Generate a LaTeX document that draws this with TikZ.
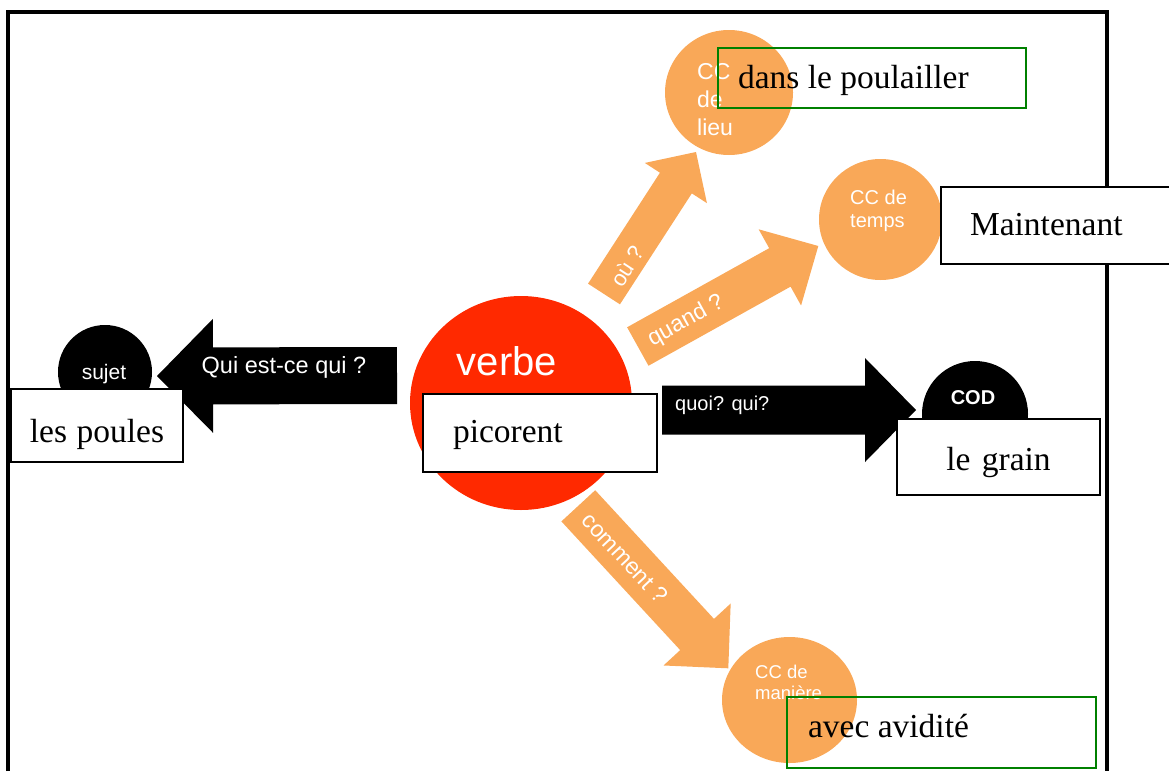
\documentclass[tikz,border=0pt]{standalone}
\usepackage{fontspec}
\setmainfont{Liberation Serif}
\setsansfont{Liberation Sans}
\usetikzlibrary{calc,shapes.geometric}
\definecolor{verbered}{RGB}{255,41,0}
\definecolor{ccorange}{RGB}{249,168,88}
\definecolor{ccgreen}{RGB}{0,128,0}
\newcommand{\answerfont}{\fontsize{33.5}{40}\selectfont}
\newcommand{\tagfont}[2]{\sffamily\fontsize{#1}{#2}\selectfont}
% fill colour, from, to, shaft half width, head half width, head length
\newcommand{\fatarrow}[6]{%
  \fill[#1] let \p1=($(#3)-(#2)$), \n1={atan2(\y1,\x1)}, \n{len}={veclen(\x1,\y1)-#6} in
    ($(#2)+(\n1+90:#4)$) -- ($(#2)+(\n1:\n{len})+(\n1+90:#4)$)
    -- ($(#2)+(\n1:\n{len})+(\n1+90:#5)$) -- (#3)
    -- ($(#2)+(\n1:\n{len})+(\n1-90:#5)$) -- ($(#2)+(\n1:\n{len})+(\n1-90:#4)$)
    -- ($(#2)+(\n1-90:#4)$) -- cycle;}
\tikzstyle{bubble} = [ellipse, inner sep=0pt]
\tikzstyle{answer} = [draw=black, fill=white, line width=1.5pt, inner ysep=0pt, text depth=0pt, font=\answerfont,
  execute at begin node={\spaceskip=0pt\xspaceskip=0pt}]
\tikzstyle{ccanswer} = [answer, draw=ccgreen, line width=2pt, fill=none]
\tikzstyle{tag} = [text=white, inner sep=0pt]

\begin{document}
\begin{tikzpicture}[x=1pt,y=-1pt]
        \useasboundingbox (0,0) rectangle (1169,771);
        \draw[line width=4pt](8,771)--(8,12)--(1107,12)--(1107,771);
        % bulles
        \node[bubble,fill=black,minimum width=94pt,minimum height=94pt](sujet) at (105,372){};
        \node[bubble,fill=verbered,minimum width=222pt,minimum height=214pt](verbe) at (521,403){};
        \node[bubble,fill=black,minimum width=106pt,minimum height=106pt](cod) at (975,414){};
        \node[bubble,fill=ccorange,minimum width=128pt,minimum height=125pt](lieu) at (729,92.5){};
        \node[bubble,fill=ccorange,minimum width=123pt,minimum height=121pt](temps) at (880.5,219.5){};
        \node[bubble,fill=ccorange,minimum width=135pt,minimum height=126pt](maniere) at (789.5,700){};
        % fleches
        \coordinate (qui0) at (397,375.5); \coordinate (qui1) at (157,376);
        \coordinate (quoi0) at (662,410); \coordinate (quoi1) at (916,410);
        \coordinate (ou0) at (604,294); \coordinate (ou1) at (696,152);
        \coordinate (quand0) at (637.8,346.5); \coordinate (quand1) at (818.3,246);
        \coordinate (comment0) at (578.3,505.8); \coordinate (comment1) at (728.3,668.3);
        \fatarrow{black}{qui0}{qui1}{28.5pt}{57pt}{56}
        \fatarrow{black}{quoi0}{quoi1}{24.5pt}{52pt}{51}
        \fatarrow{ccorange}{ou0}{ou1}{19pt}{37pt}{37}
        \fatarrow{ccorange}{quand0}{quand1}{22pt}{43.6pt}{44}
        \fatarrow{ccorange}{comment0}{comment1}{23pt}{45.7pt}{46}
        \node[tag,font=\tagfont{23.5}{28},anchor=base](qui) at (284,373){Qui est-ce qui ?};
        \node[tag,font=\tagfont{20}{24},anchor=base west](quoi) at (675,410){quoi? qui?};
        \node[tag,font=\tagfont{22}{26},rotate=57](ou) at (627,266){où ?};
        \node[tag,font=\tagfont{23}{27},rotate=29](quand) at (686,321){quand ?};
        \node[tag,font=\tagfont{23}{27},rotate=-47](comment) at (625,558){comment ?};
        % noms des bulles
        \node[tag,font=\tagfont{21}{25},anchor=base](sujet-t) at (104,379){sujet};
        \node[tag,font=\tagfont{40}{48},anchor=base](verbe-t) at (507,375){verbe};
        \node[tag,font=\tagfont{20}{24}\bfseries,anchor=base](cod-t) at (973,404){COD};
        \node[tag,font=\tagfont{23}{28},anchor=base west,align=left](lieu-t) at (697,135){CC\\de\\lieu};
        \node[tag,font=\tagfont{20}{23},anchor=base west,align=left](temps-t) at (850,227){CC de\\temps};
        \node[tag,font=\tagfont{18.5}{21},anchor=base west,align=left](maniere-t) at (755,699){CC de\\manière};
        % reponses
        \node[answer,inner xsep=0pt,text width=172pt,align=center,minimum height=73pt,text height=33pt](poules) at (97,425.5){les poules};
        \node[answer,inner xsep=30pt,text width=174pt,align=left,minimum height=78pt,text height=18pt](picorent) at (540,433){picorent};
        \node[answer,inner xsep=0pt,text width=203pt,align=center,minimum height=76pt,text height=26pt](grain) at (998.5,457){le grain};
        \node[answer,inner xsep=29pt,text width=181pt,align=left,minimum height=77pt,text height=19pt](maintenant) at (1060.5,225.5){Maintenant};
        \node[ccanswer,inner xsep=20pt,text width=268pt,align=left,minimum height=60pt,text height=20pt](poulailler) at (872,78){dans le poulailler};
        \node[ccanswer,inner xsep=21pt,text width=267pt,align=left,minimum height=71pt,text height=9pt](avidite) at (941.5,732.5){avec avidité};
      \end{tikzpicture}
\end{document}
